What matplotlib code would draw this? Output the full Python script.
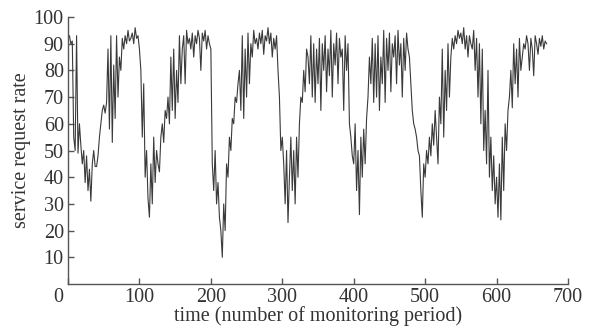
import matplotlib
matplotlib.use("Agg")
import matplotlib.pyplot as plt
import matplotlib.transforms as mtransforms
import numpy as np

# time step between samples (monitoring periods)
t_step = 2
rate = [
    92, 93, 90, 91, 55, 50, 93, 49, 60, 52,
    45, 50, 38, 48, 35, 43, 31, 45, 50, 44,
    44, 48, 55, 60, 65, 67, 64, 68, 88, 58,
    93, 53, 82, 62, 93, 70, 85, 80, 92, 88,
    93, 90, 95, 91, 92, 94, 90, 96, 92, 93,
    88, 80, 55, 75, 40, 50, 32, 25, 45, 30,
    55, 38, 50, 45, 42, 55, 60, 53, 65, 62,
    70, 60, 85, 65, 88, 62, 80, 68, 93, 75,
    88, 93, 75, 95, 90, 92, 88, 94, 85, 93,
    90, 95, 92, 80, 94, 91, 95, 88, 93, 90,
    88, 45, 35, 50, 30, 38, 25, 20, 10, 30,
    20, 45, 40, 55, 50, 62, 60, 70, 68, 75,
    80, 65, 93, 62, 88, 70, 94, 75, 90, 85,
    95, 90, 92, 88, 94, 90, 95, 86, 93, 91,
    96, 90, 94, 85, 92, 88, 93, 80, 70, 50,
    55, 45, 30, 50, 23, 40, 55, 35, 50, 30,
    55, 40, 60, 70, 68, 80, 72, 88, 85, 75,
    93, 70, 90, 68, 88, 75, 92, 65, 90, 80,
    93, 72, 88, 78, 95, 70, 90, 82, 94, 75,
    92, 85, 88, 65, 93, 80, 90, 60, 55, 48,
    45, 60, 35, 50, 26, 55, 40, 58, 45, 62,
    70, 85, 75, 92, 68, 90, 70, 93, 65, 85,
    75, 95, 68, 92, 80, 94, 72, 90, 85, 93,
    75, 95, 82, 90, 70, 92, 80, 94, 88, 85,
    75, 65, 60, 58, 55, 50, 48, 35, 25, 45,
    40, 50, 45, 55, 48, 60, 52, 65, 55, 45,
    70, 60, 88, 55, 80, 65, 90, 70, 85, 92,
    88, 93, 90, 95, 92, 94, 90, 96, 88, 93,
    85, 93, 90, 88, 95, 80, 92, 70, 90, 60,
    88, 50, 65, 45, 80, 40, 55, 35, 48, 30,
    40, 25, 45, 24, 55, 35, 60, 50, 65, 70,
    80, 66, 90, 75, 88, 70, 92, 80, 85, 90,
    88, 93, 90, 80, 92, 88, 78, 93, 90, 86,
    92, 89, 93, 88, 91, 90,
]
x_ticks = [0, 100, 200, 300, 400, 500, 600, 700]
y_ticks = [10, 20, 30, 40, 50, 60, 70, 80, 90, 100]

plt.rcParams['font.family'] = ['Liberation Serif', 'DejaVu Serif']
text_col = '#333333'
fs = 14.5

fig = plt.figure(figsize=(6.11, 3.30), dpi=100)
ax = fig.add_axes([68 / 611, 1 - 284 / 330, 500 / 611, 267 / 330])

t = np.arange(len(rate)) * t_step
ax.plot(t, rate, color='#3a3a3a', lw=0.8)

ax.set_xlim(0, 700)
ax.set_ylim(0, 100)
ax.set_xticks(x_ticks)
ax.set_yticks(y_ticks)
for s in ['top', 'right']:
    ax.spines[s].set_visible(False)
for s in ['left', 'bottom']:
    ax.spines[s].set_color('#555555')
    ax.spines[s].set_linewidth(1.0)
ax.tick_params(direction='in', length=4, width=1, color='#555555',
               labelsize=fs, labelcolor=text_col, pad=3)

# shift the "0" label slightly left as in the reference
lbl0 = ax.get_xticklabels()[0]
lbl0.set_transform(lbl0.get_transform() +
                   mtransforms.ScaledTranslation(-10 / 100, 0, fig.dpi_scale_trans))

ax.set_xlabel('time (number of monitoring period)', fontsize=fs,
              color=text_col, labelpad=-1)
ax.set_ylabel('service request rate', fontsize=fs, color=text_col, labelpad=2)

fig.savefig('out.png', dpi=100)
